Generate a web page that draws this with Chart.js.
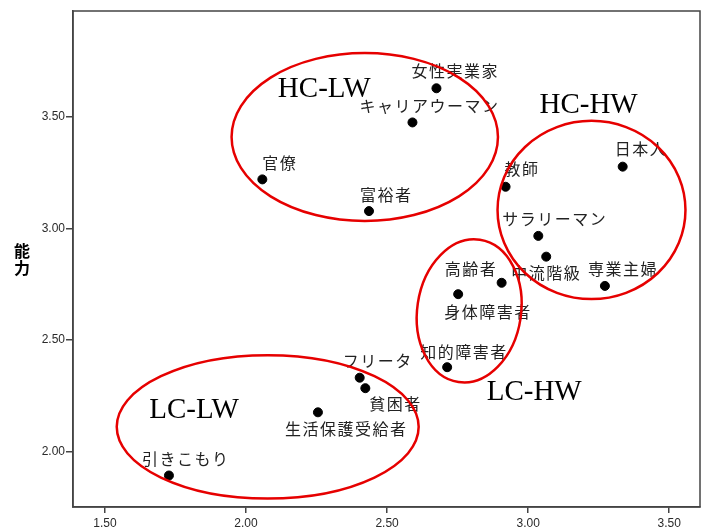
<!DOCTYPE html>
<html>
<head>
<meta charset="utf-8">
<script src="https://cdn.jsdelivr.net/npm/chart.js@4.4.0/dist/chart.umd.min.js"></script>
<style>
  body { margin: 0; background: #fff; }
</style>
</head>
<body>
<canvas id="grafico" width="701" height="531"></canvas>
<script>
// 職業イメージ：温かさ(x) と 能力(y)
const categorias = ["女性実業家", "キャリアウーマン", "官僚", "富裕者", "日本人", "教師", "サラリーマン", "中流階級",
  "専業主婦", "高齢者", "身体障害者", "知的障害者", "フリータ", "貧困者", "生活保護受給者", "引きこもり"];
const calidez = [2.675, 2.590, 2.058, 2.436, 3.335, 2.920, 3.036, 3.064,
  3.272, 2.906, 2.752, 2.713, 2.403, 2.423, 2.255, 1.727];
const capacidade = [3.627, 3.474, 3.219, 3.077, 3.276, 3.186, 2.966, 2.873,
  2.742, 2.756, 2.705, 2.378, 2.331, 2.284, 2.176, 1.893];
const xTicks = [1.5, 2.0, 2.5, 3.0, 3.5];
const yTicks = [2.0, 2.5, 3.0, 3.5];
const tituloY = "能力";
const grupos = ["HC-LW", "HC-HW", "LC-HW", "LC-LW"];

// onde ficam os rótulos de cada ponto (px, relativo ao ponto)
const rotuloOffsets = [
  [-25, -17], [-53, -17], [0, -16], [-9, -16], [-8, -18], [-1, -18], [-36, -17], [-35, 16],
  [-17, -17], [-57, -14], [-14, 18], [-27, -15], [-17, -17], [4, 16], [-33, 17], [-27, -17]
];

// elipses em unidades dos eixos: cx, cy, rx, ry, rotação
const elipses = [
  [2.421, 3.409, 0.472, 0.376, 0],
  [3.2245, 3.082, 0.333, 0.399, 0],
  [2.791, 2.630, 0.184, 0.322, 0.15],
  [2.077, 2.111, 0.535, 0.321, 0]
];
// posição (esquerda, linha de base) dos nomes dos grupos
const gruposPos = [[2.113, 3.588], [3.040, 3.515], [2.853, 2.231], [1.657, 2.149]];

const anotacoes = {
  id: "anotacoes",
  afterDatasetsDraw(chart) {
    const ctx = chart.ctx;
    const xs = chart.scales.x, ys = chart.scales.y;
    const area = chart.chartArea;

    // moldura
    ctx.save();
    ctx.strokeStyle = "#444";
    ctx.lineWidth = 1.5;
    ctx.strokeRect(area.left, area.top, area.right - area.left, area.bottom - area.top);

    // rótulos dos pontos
    ctx.fillStyle = "#222";
    ctx.font = '16px "Noto Sans CJK JP"';
    ctx.letterSpacing = "1.5px";
    ctx.textAlign = "left";
    ctx.textBaseline = "middle";
    categorias.forEach((nome, i) => {
      const px = xs.getPixelForValue(calidez[i]);
      const py = ys.getPixelForValue(capacidade[i]);
      ctx.fillText(nome, px + rotuloOffsets[i][0], py + rotuloOffsets[i][1]);
    });
    ctx.letterSpacing = "0px";

    // elipses
    ctx.strokeStyle = "#e60000";
    ctx.lineWidth = 2.5;
    elipses.forEach((e) => {
      const cx = xs.getPixelForValue(e[0]);
      const cy = ys.getPixelForValue(e[1]);
      const rx = xs.getPixelForValue(e[0] + e[2]) - cx;
      const ry = cy - ys.getPixelForValue(e[1] + e[3]);
      ctx.beginPath();
      ctx.ellipse(cx, cy, rx, ry, e[4], 0, Math.PI * 2);
      ctx.stroke();
    });

    // nomes dos grupos
    ctx.fillStyle = "#000";
    ctx.font = '29px "Liberation Serif"';
    ctx.textBaseline = "alphabetic";
    grupos.forEach((g, i) => {
      ctx.fillText(g, xs.getPixelForValue(gruposPos[i][0]), ys.getPixelForValue(gruposPos[i][1]));
    });

    // título do eixo y, em pé
    ctx.font = 'bold 16px "Noto Sans CJK JP"';
    ctx.textAlign = "center";
    ctx.textBaseline = "middle";
    const meio = 259;
    ctx.fillText(tituloY[0], 22, meio - 8.5);
    ctx.fillText(tituloY[1], 22, meio + 8.5);
    ctx.restore();
  }
};

const ctx = document.getElementById("grafico").getContext("2d");
const chartConfig = {
  type: "scatter",
  data: {
    datasets: [
      {
        label: tituloY,
        data: calidez.map((x, i) => ({ x: x, y: capacidade[i] })),
        backgroundColor: "#000",
        borderColor: "#000",
        pointRadius: 4.5,
        pointHoverRadius: 4.5,
      },
    ],
  },
  options: {
    responsive: false,
    animation: false,
    layout: { autoPadding: false, padding: { top: 11, right: 1, left: 0, bottom: 0 } },
    plugins: {
      legend: { display: false },
      tooltip: { enabled: false },
    },
    scales: {
      x: {
        type: "linear",
        min: 1.387,
        max: 3.609,
        afterBuildTicks: (scale) => { scale.ticks = xTicks.map((v) => ({ value: v })); },
        afterFit: (scale) => { scale.height = 24; },
        ticks: {
          color: "#2a2a2a",
          font: { family: "Liberation Sans", size: 12 },
          padding: 3,
          maxRotation: 0,
          callback: (v) => Number(v).toFixed(2),
        },
        grid: { drawOnChartArea: false, tickLength: 6, color: "#444", lineWidth: 1.5 },
        border: { display: true, color: "#444", width: 1.5 },
      },
      y: {
        type: "linear",
        min: 1.752,
        max: 3.973,
        afterBuildTicks: (scale) => { scale.ticks = yTicks.map((v) => ({ value: v })); },
        afterFit: (scale) => { scale.width = 73; },
        ticks: {
          color: "#2a2a2a",
          font: { family: "Liberation Sans", size: 12 },
          padding: 1,
          callback: (v) => Number(v).toFixed(2),
        },
        grid: { drawOnChartArea: false, tickLength: 7, color: "#444", lineWidth: 1.5 },
        border: { display: true, color: "#444", width: 1.5 },
      },
    },
  },
  plugins: [anotacoes],
};

const myChart = new Chart(ctx, chartConfig);
</script>
</body>
</html>
